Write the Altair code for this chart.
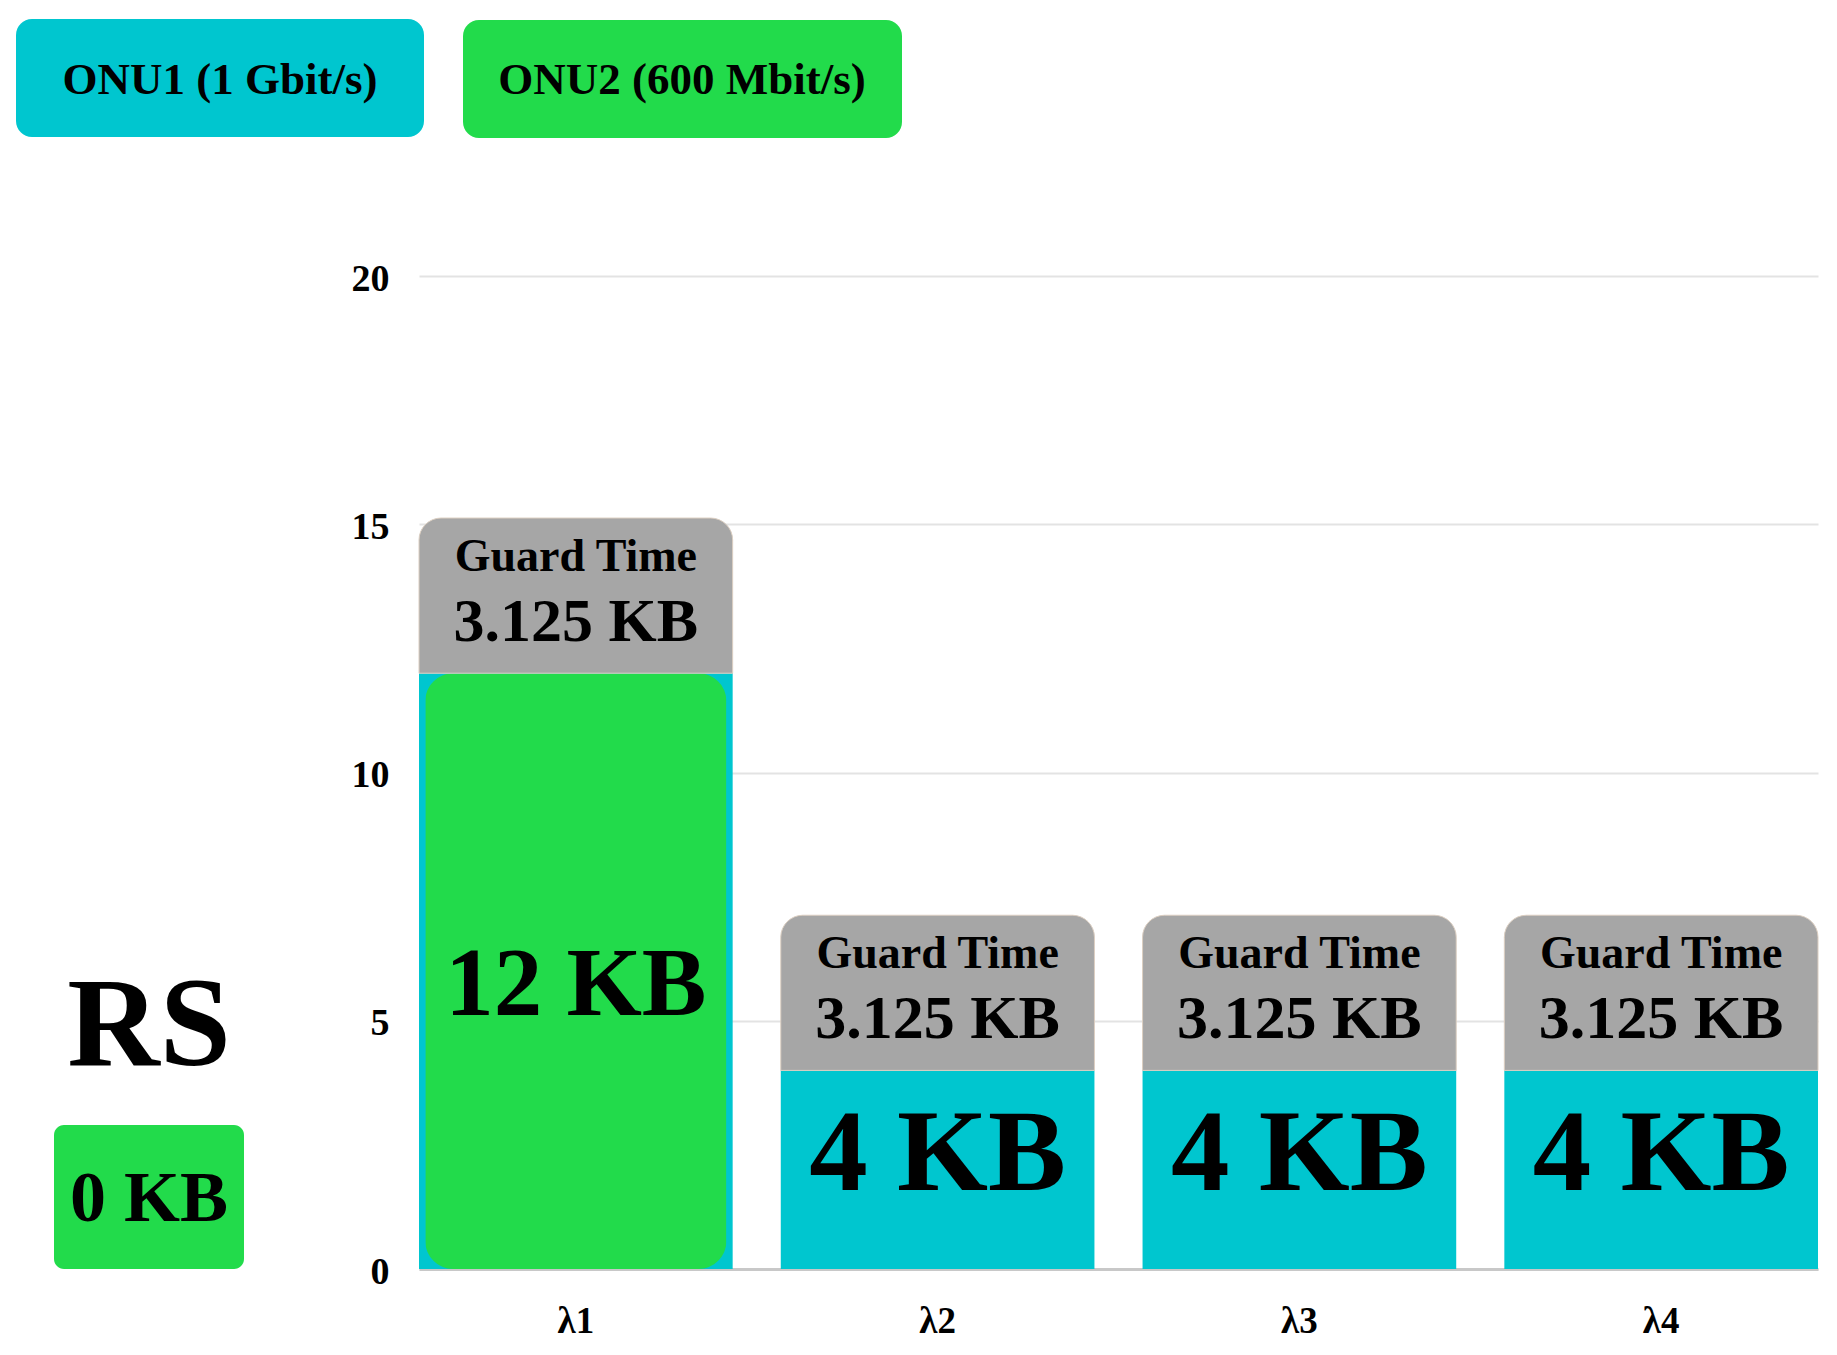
import altair as alt
import pandas as pd

# ---- data ----
categories = ["λ1", "λ2", "λ3", "λ4"]
onu1_kb = [0, 4, 4, 4]          # ONU1 (cyan) payload per wavelength
onu2_kb = [12, 0, 0, 0]         # ONU2 (green) payload per wavelength
guard_kb = [3.125, 3.125, 3.125, 3.125]
y_ticks = [0, 5, 10, 15, 20]
legend_labels = ["ONU1 (1 Gbit/s)", "ONU2 (600 Mbit/s)"]
rs_title = "RS"
rs_kb = [0]

CYAN = "#00C6CF"
GREEN = "#22DB4B"
GRAY = "#A6A6A6"
FONT = "Liberation Serif"

df = pd.DataFrame({"lam": categories, "onu1": onu1_kb, "onu2": onu2_kb, "guard": guard_kb})
df["data_top"] = df["onu1"] + df["onu2"]
df["gt_top"] = df["data_top"] + df["guard"]
df["gt_lbl"] = df["guard"].map(lambda v: f"{v:g} KB")
df["gt_title"] = "Guard Time"

cyan_df = df[df["onu1"] > 0].copy()
cyan_df["mid"] = cyan_df["onu1"] / 2
cyan_df["lbl"] = cyan_df["onu1"].map(lambda v: f"{v:g} KB")

green_df = df[df["onu2"] > 0].copy()
green_df["mid"] = green_df["onu2"] / 2
green_df["lbl"] = green_df["onu2"].map(lambda v: f"{v:g} KB")

xscale = alt.Scale(domain=categories, paddingInner=0.133, paddingOuter=0)
yscale = alt.Scale(domain=[0, 20], nice=False)

x_enc = alt.X("lam:N", scale=xscale, sort=categories,
              axis=alt.Axis(title=None, labelAngle=0, labelFont=FONT, labelFontWeight="bold",
                            labelFontSize=37, labelColor="black", labelPadding=34,
                            ticks=False, domainColor="#c8c8c8", domainWidth=3, grid=False))

backing = alt.Chart(df).mark_bar(color=CYAN).encode(
    x=x_enc,
    y=alt.Y("data_top:Q", scale=yscale,
            axis=alt.Axis(title=None, values=y_ticks, labelFont=FONT, labelFontWeight="bold",
                          labelFontSize=38, labelColor="black", labelPadding=30, labelOffset=3,
                          ticks=False, domain=False, gridColor="#e3e3e3", gridWidth=2)),
)

green = alt.Chart(green_df).mark_bar(color=GREEN, cornerRadius=28,
                                     width=alt.RelativeBandSize(0.96)).encode(
    x=alt.X("lam:N", scale=xscale, sort=categories),
    y=alt.Y("onu2:Q", scale=yscale),
)

guard = alt.Chart(df).mark_bar(color=GRAY, cornerRadiusTopLeft=22, cornerRadiusTopRight=22,
                               stroke="#dccfc2", strokeWidth=1).encode(
    x=alt.X("lam:N", scale=xscale, sort=categories),
    y=alt.Y("data_top:Q", scale=yscale),
    y2="gt_top:Q",
)

gt_title = alt.Chart(df).mark_text(font=FONT, fontWeight="bold", fontSize=46, color="black",
                                   baseline="middle", dy=39).encode(
    x=alt.X("lam:N", scale=xscale, sort=categories),
    y=alt.Y("gt_top:Q", scale=yscale),
    text="gt_title:N",
)
gt_val = alt.Chart(df).mark_text(font=FONT, fontWeight="bold", fontSize=62, color="black",
                                 baseline="middle", dy=104).encode(
    x=alt.X("lam:N", scale=xscale, sort=categories),
    y=alt.Y("gt_top:Q", scale=yscale),
    text="gt_lbl:N",
)
cyan_txt = alt.Chart(cyan_df).mark_text(font=FONT, fontWeight="bold", fontSize=117, color="black",
                                        baseline="middle", dy=-15).encode(
    x=alt.X("lam:N", scale=xscale, sort=categories),
    y=alt.Y("mid:Q", scale=yscale),
    text="lbl:N",
)
green_txt = alt.Chart(green_df).mark_text(font=FONT, fontWeight="bold", fontSize=97, color="black",
                                          baseline="middle", dy=15).encode(
    x=alt.X("lam:N", scale=xscale, sort=categories),
    y=alt.Y("mid:Q", scale=yscale),
    text="lbl:N",
)

# ---- legend boxes (annotations above the plot) ----
def box(x1, x2, y1, y2, color, radius):
    return alt.Chart(pd.DataFrame({"k": [0]})).mark_rect(color=color, cornerRadius=radius).encode(
        x=alt.value(x1), x2=alt.value(x2), y=alt.value(y1), y2=alt.value(y2))

def label(x, y, text, size):
    return alt.Chart(pd.DataFrame({"t": [text]})).mark_text(
        font=FONT, fontWeight="bold", fontSize=size, color="black", baseline="middle", align="center"
    ).encode(x=alt.value(x), y=alt.value(y), text="t:N")

leg1 = box(-403, 5, -257, -139, CYAN, 16)
leg1_t = label(-199, -196, legend_labels[0], 45)
leg2 = box(44, 483, -256, -138, GREEN, 16)
leg2_t = label(263, -196, legend_labels[1], 45)

rs_t = label(-270, 751, rs_title, 128)
rs_box = box(-365, -175, 849, 993, GREEN, 10)
rs_val = label(-270, 923, f"{rs_kb[0]:g} KB", 72)

chart = alt.layer(
    backing, green, guard, gt_title, gt_val, cyan_txt, green_txt,
    leg1, leg1_t, leg2, leg2_t, rs_t, rs_box, rs_val,
).properties(
    width=1399, height=993,
    autosize=alt.AutoSizeParams(type="none"),
    padding={"left": 411, "top": 268, "right": 10, "bottom": 70},
).configure_view(stroke=None)

chart.save("out.html", embed_options={"renderer": "svg", "actions": False})
